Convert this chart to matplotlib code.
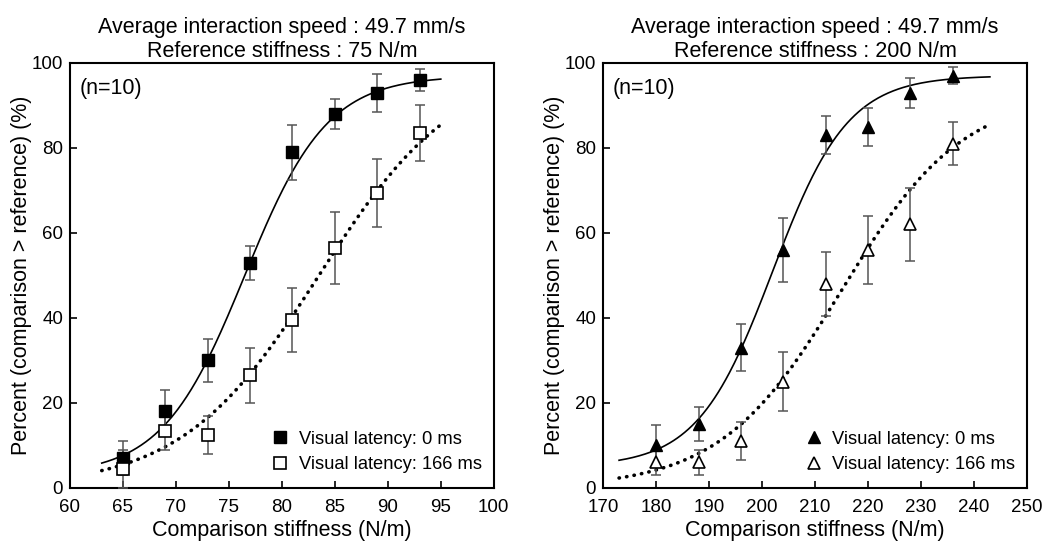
import numpy as np
import matplotlib
matplotlib.use("Agg")
import matplotlib.pyplot as plt

plt.rcParams['font.family'] = ['Liberation Sans', 'DejaVu Sans']

# -----------------------------
# Datos
# -----------------------------
# Panel izquierdo: referencia 75 N/m
x_left = [65, 69, 73, 77, 81, 85, 89, 93]
y_left_0 = [7, 18, 30, 53, 79, 88, 93, 96]
e_left_0 = [4, 5, 5, 4, 6.5, 3.5, 4.5, 2.5]
y_left_166 = [4.5, 13.5, 12.5, 26.5, 39.5, 56.5, 69.5, 83.5]
e_left_166 = [4.5, 4.5, 4.5, 6.5, 7.5, 8.5, 8, 6.5]

# Panel derecho: referencia 200 N/m
x_right = [180, 188, 196, 204, 212, 220, 228, 236]
y_right_0 = [10, 15, 33, 56, 83, 85, 93, 97]
e_right_0 = [4.75, 4, 5.5, 7.5, 4.5, 4.5, 3.5, 2]
y_right_166 = [6, 6, 11, 25, 48, 56, 62, 81]
e_right_166 = [3, 3, 4.5, 7, 7.5, 8, 8.5, 5]

# Parámetros de las curvas psicométricas ajustadas (logística):
# (inferior, superior, PSE, pendiente, x inicio, x fin)
fit_left_0 = (3, 97, 76.5, 3.9, 63, 95)
fit_left_166 = (0, 100, 83.5, 6.5, 63, 95)
fit_right_0 = (5, 97, 202, 7.1, 173, 243)
fit_right_166 = (0, 93, 215, 11.5, 173, 243)


def logistica(params):
    lo, hi, pse, s, xa, xb = params
    xs = np.linspace(xa, xb, 300)
    return xs, lo + (hi - lo) / (1 + np.exp(-(xs - pse) / s))


def panel(ax, x, y0, e0, y1, e1, fit0, fit1, marker, ms, xlim, xticks, titulo):
    xs, ys = logistica(fit0)
    ax.plot(xs, ys, color='black', linewidth=1.2, zorder=2)
    xs, ys = logistica(fit1)
    ax.plot(xs, ys, color='black', linewidth=2.6, linestyle=(0, (0.1, 2.0)),
            dash_capstyle='round', zorder=2)

    ax.errorbar(x, y0, yerr=e0, fmt='none', ecolor='#555555', elinewidth=1.1,
                capsize=3.5, capthick=1.1, zorder=3)
    ax.errorbar(x, y1, yerr=e1, fmt='none', ecolor='#555555', elinewidth=1.1,
                capsize=3.5, capthick=1.1, zorder=3)
    ax.plot(x, y0, linestyle='none', marker=marker, markersize=ms,
            markerfacecolor='black', markeredgecolor='black', zorder=4,
            label='Visual latency: 0 ms')
    ax.plot(x, y1, linestyle='none', marker=marker, markersize=ms,
            markerfacecolor='white', markeredgecolor='black', markeredgewidth=1.2,
            zorder=4, label='Visual latency: 166 ms')

    ax.set_xlim(*xlim)
    ax.set_ylim(0, 100)
    ax.set_xticks(xticks)
    ax.set_yticks([0, 20, 40, 60, 80, 100])
    ax.tick_params(direction='in', length=5, width=1.2, labelsize=13.5)
    ax.tick_params(axis='x', pad=8)
    ax.tick_params(axis='y', pad=5)
    for sp in ax.spines.values():
        sp.set_linewidth(1.5)
    ax.set_xlabel('Comparison stiffness (N/m)', fontsize=15.5, labelpad=3)
    ax.set_ylabel('Percent (comparison > reference) (%)', fontsize=15.5, labelpad=0)
    ax.set_title(titulo, fontsize=15.5, linespacing=1.2, pad=4)
    ax.text(0.022, 0.965, '(n=10)', transform=ax.transAxes, fontsize=15.5,
            ha='left', va='top')
    ax.legend(loc='lower left', bbox_to_anchor=(0.475, 0.035), frameon=False,
              fontsize=13.2, handlelength=1.0, handletextpad=0.5,
              labelspacing=0.45, borderpad=0, borderaxespad=0)


fig = plt.figure(figsize=(10.49, 5.45), dpi=100)
ax1 = fig.add_axes([0.0667, 0.1046, 0.404, 0.780])
ax2 = fig.add_axes([0.575, 0.1046, 0.404, 0.780])

panel(ax1, x_left, y_left_0, e_left_0, y_left_166, e_left_166,
      fit_left_0, fit_left_166, 's', 8, (60, 100), range(60, 101, 5),
      'Average interaction speed : 49.7 mm/s\nReference stiffness : 75 N/m')
panel(ax2, x_right, y_right_0, e_right_0, y_right_166, e_right_166,
      fit_right_0, fit_right_166, '^', 9, (170, 250), range(170, 251, 10),
      'Average interaction speed : 49.7 mm/s\nReference stiffness : 200 N/m')

fig.savefig('out.png', dpi=100)
